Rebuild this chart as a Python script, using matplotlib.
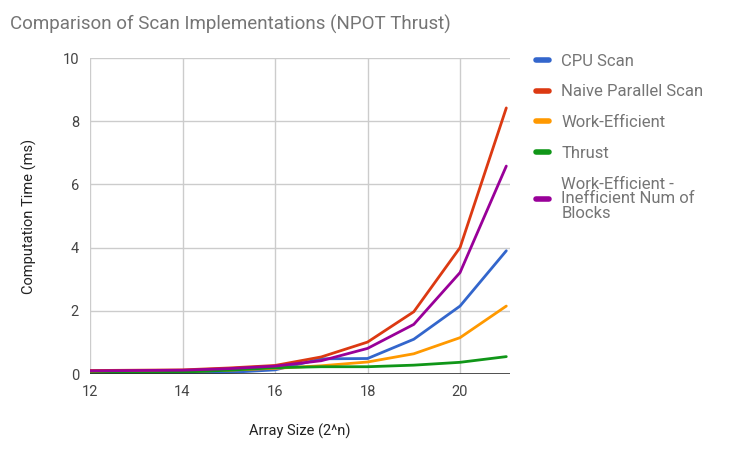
import numpy as np
import matplotlib
matplotlib.use('Agg')
import matplotlib.pyplot as plt

plt.rcParams['font.family'] = ['Roboto', 'DejaVu Sans']

# data
sizes = [12, 13, 14, 15, 16, 17, 18, 19, 20, 21]
cpu_scan = [0.02, 0.02, 0.02, 0.05, 0.13, 0.48, 0.49, 1.10, 2.15, 3.90]
naive_scan = [0.11, 0.12, 0.13, 0.19, 0.27, 0.54, 1.01, 1.97, 4.00, 8.42]
work_efficient = [0.05, 0.06, 0.08, 0.12, 0.18, 0.26, 0.38, 0.64, 1.15, 2.15]
thrust = [0.01, 0.03, 0.06, 0.12, 0.20, 0.23, 0.23, 0.28, 0.37, 0.55]
we_bad_blocks = [0.10, 0.11, 0.12, 0.17, 0.25, 0.42, 0.81, 1.57, 3.21, 6.58]

names = ['CPU Scan', 'Naive Parallel Scan', 'Work-Efficient', 'Thrust',
         'Work-Efficient -\nInefficient Num of\nBlocks']
colors = ['#3366cc', '#dc3912', '#ff9900', '#109618', '#990099']
series = [cpu_scan, naive_scan, work_efficient, thrust, we_bad_blocks]

fig = plt.figure(figsize=(7.4, 4.54), dpi=100)
ax = fig.add_axes([90 / 740, 80 / 454, 420 / 740, 316 / 454])

for vals, c, n in zip(series, colors, names):
    ax.plot(sizes, vals, color=c, lw=2, label=n, solid_capstyle='round')

ax.set_xlim(12, 21.08)
ax.set_ylim(0, 10)
ax.set_xticks([12, 14, 16, 18, 20])
ax.set_yticks([0, 2, 4, 6, 8, 10])
ax.grid(True, color='#cccccc', lw=1)
ax.set_axisbelow(True)
ax.axhline(0, color='#333333', lw=1.2)
for s in ax.spines.values():
    s.set_visible(False)
ax.tick_params(length=0, labelsize=10.5, colors='#444444', pad=8)

ax.set_xlabel('Array Size (2^n)', fontsize=10.5, color='#222222', labelpad=18)
ax.set_ylabel('Computation Time (ms)', fontsize=10.5, color='#222222', labelpad=18)

fig.text(10 / 740, 1 - 24 / 454, 'Comparison of Scan Implementations (NPOT Thrust)',
         fontsize=13.5, color='#757575', va='center')

leg = ax.legend(loc='upper left', bbox_to_anchor=(1.045, 1.035), frameon=False,
                fontsize=12, handlelength=0.8, handletextpad=0.75,
                labelspacing=0.95, borderaxespad=0)
for t in leg.get_texts():
    t.set_color('#757575')
    t.set_linespacing(0.95)
for h in leg.get_lines():
    h.set_linewidth(4)
    h.set_solid_capstyle('round')

fig.savefig('out.png', dpi=100)
